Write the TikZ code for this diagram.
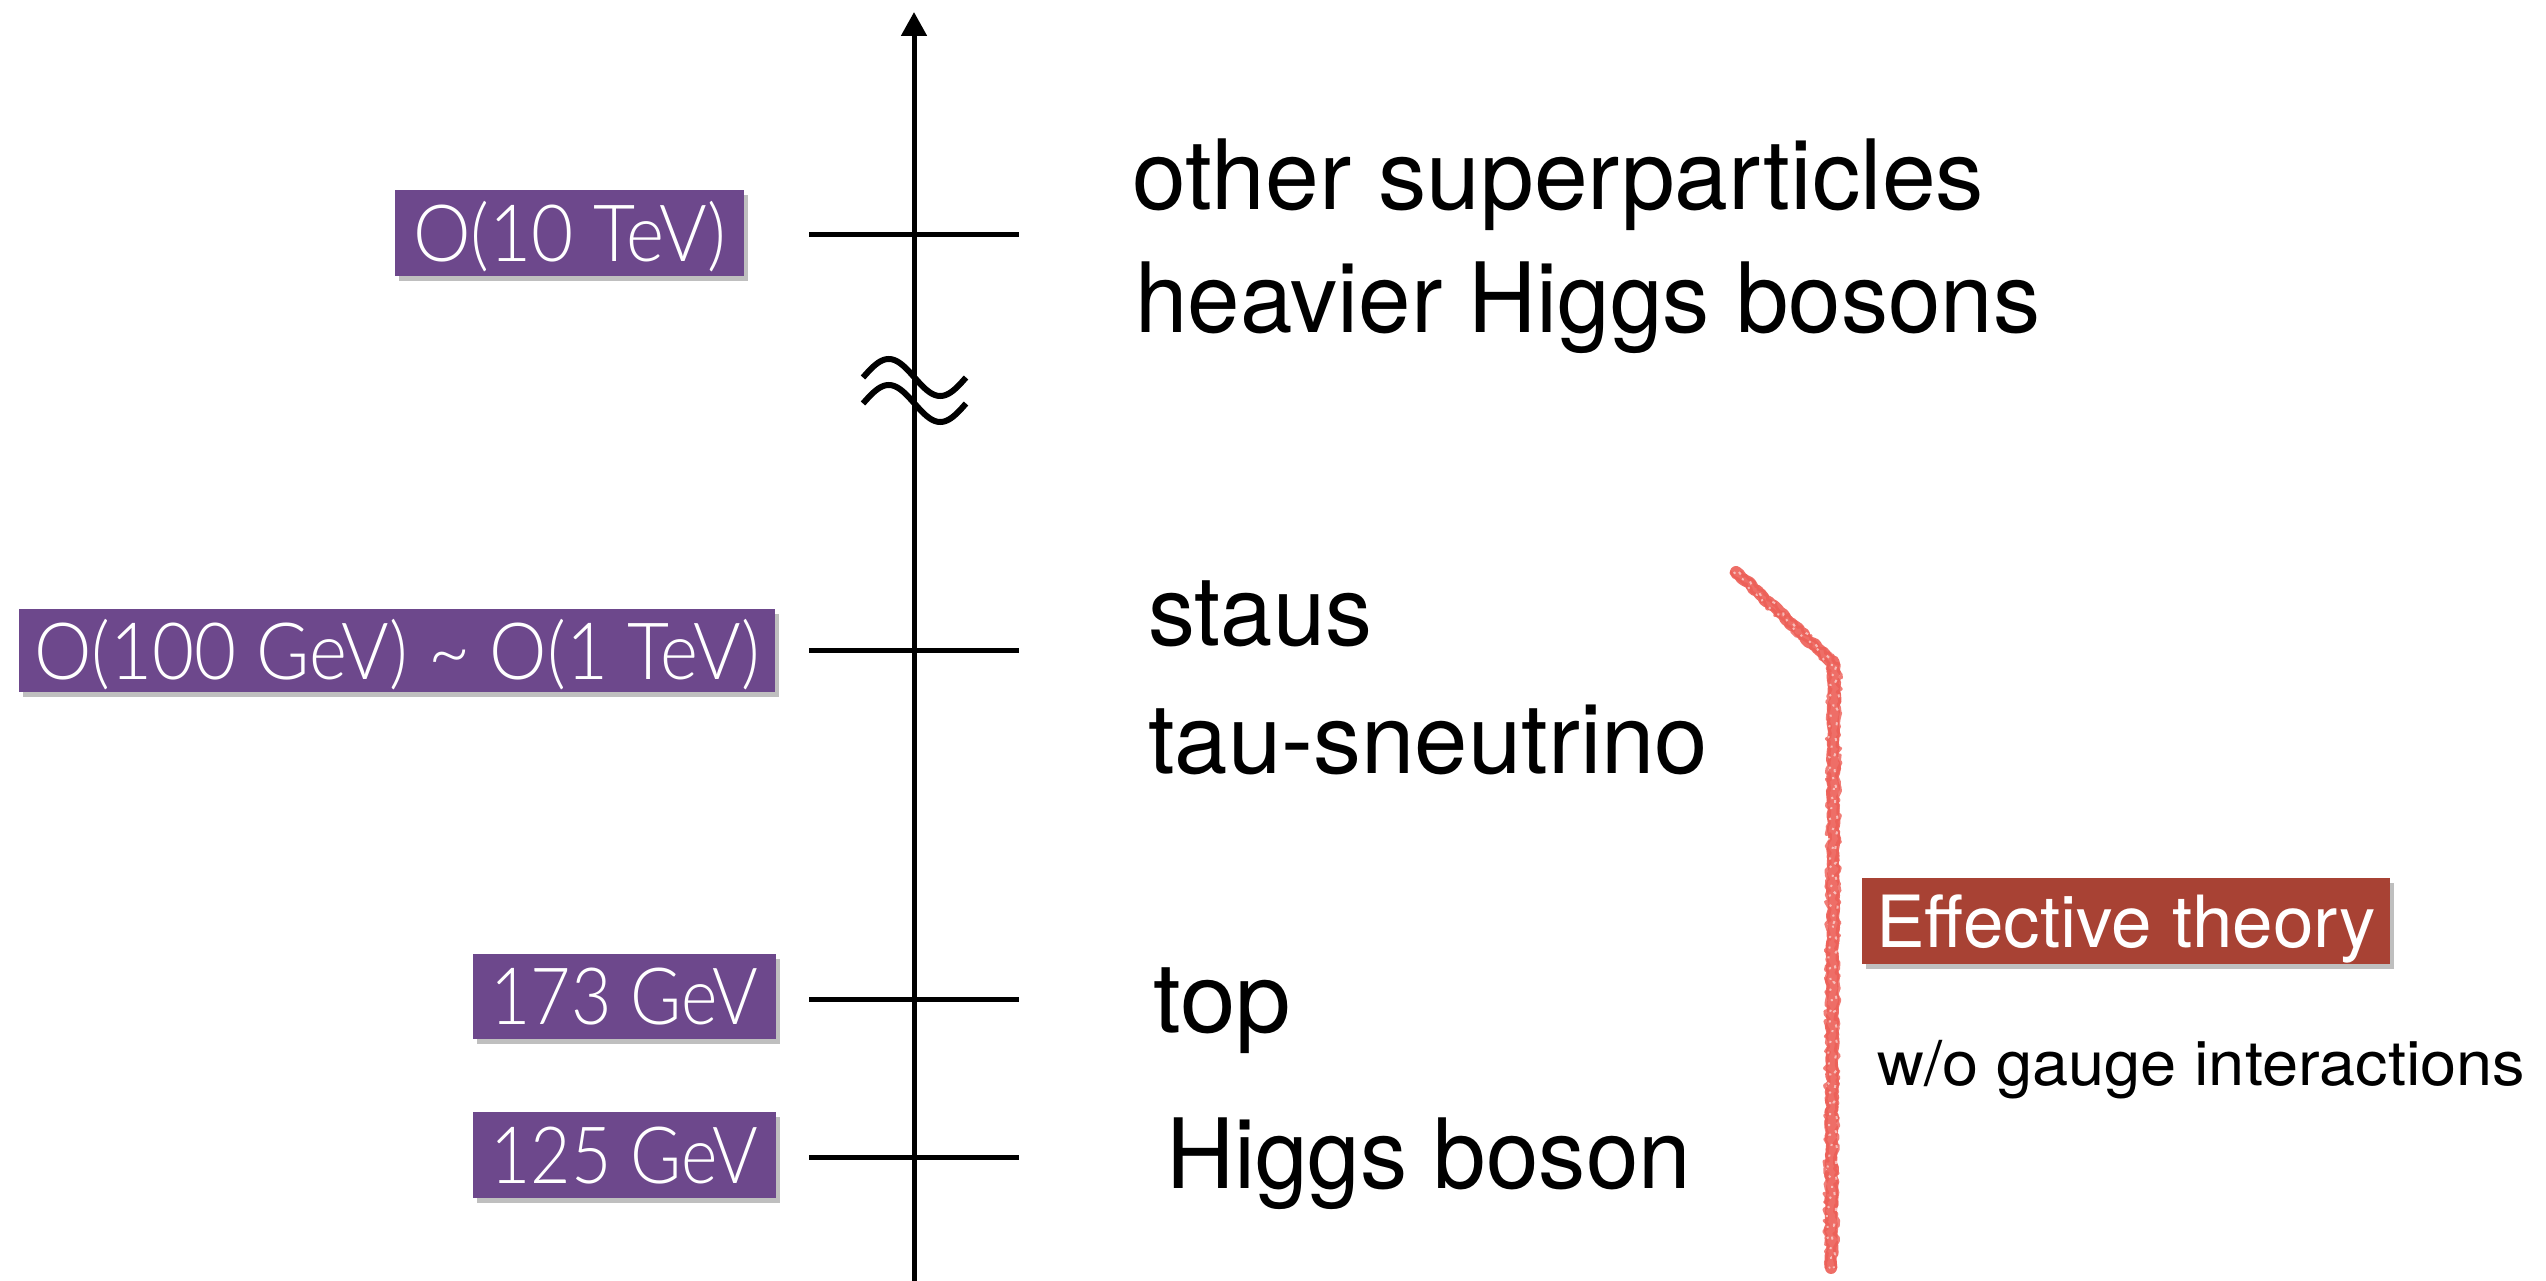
\documentclass[tikz,border=0pt]{standalone}
\usepackage{fontspec}
\setmainfont{TeX Gyre Heros}
\IfFontExistsTF{Lato Light}
  {\newfontfamily\labfont{Lato Light}}
  {\newfontfamily\labfont{Lato}}
\usetikzlibrary{arrows.meta,shadows,decorations.pathmorphing}
\definecolor{labpurple}{RGB}{109,72,140}
\definecolor{effred}{RGB}{168,66,52}
\definecolor{crayonred}{RGB}{236,94,86}
% stretch a text horizontally to a given width, keeping its height
\newcommand\fitwidth[2]{\resizebox{#1}{\height}{#2}}

\begin{document}
\begin{tikzpicture}[x=1pt,y=-1pt,
  energybox/.style={fill=labpurple, text=white, inner sep=0pt,
    drop shadow={shadow xshift=4pt, shadow yshift=-5pt, opacity=.5},
    font=\labfont\fontsize{79}{90}\selectfont, text height=57pt, text depth=0pt},
  effbox/.style={fill=effred, text=white, inner sep=0pt,
    drop shadow={shadow xshift=4pt, shadow yshift=-5pt, opacity=.5},
    font=\fontsize{72}{80}\selectfont, text height=52pt, text depth=0pt},
  partname/.style={anchor=base west, inner sep=0pt, font=\fontsize{97}{110}\selectfont},
  tickline/.style={line width=5pt},
  axisline/.style={line width=5pt, -{Triangle[length=24pt,width=25pt]}},
  approxline/.style={line width=6pt},
  crayon/.style={draw=crayonred, line join=round, line cap=round},
  speckle/.style={draw=white, line width=2pt, opacity=.55},
]
\useasboundingbox (0,0) rectangle (2546,1281);
\pgfmathsetseed{7}

% energy axis
\coordinate (axbot) at (914,1281);
\coordinate (axtop) at (914,12);
\draw[axisline] (axbot) -- (axtop);

% scale ticks
\coordinate (t10l) at (809,235);   \coordinate (t10r) at (1019,235);
\coordinate (t100l) at (809,650);  \coordinate (t100r) at (1019,650);
\coordinate (t173l) at (809,999);  \coordinate (t173r) at (1019,999);
\coordinate (t125l) at (809,1157); \coordinate (t125r) at (1019,1157);
\draw[tickline] (t10l) -- (t10r);
\draw[tickline] (t100l) -- (t100r);
\draw[tickline] (t173l) -- (t173r);
\draw[tickline] (t125l) -- (t125r);

% axis break: two sine waves, one period over 103pt
\draw[approxline] plot[domain=0:360,samples=73] ({863+0.2861*\x},{377.5-18.5*sin(\x)});
\draw[approxline] plot[domain=0:360,samples=73] ({863+0.2861*\x},{403.5-18.5*sin(\x)});

% energy labels
\node[energybox, minimum width=349pt, minimum height=86pt] (lab10) at (569.5,233)
  {\fitwidth{313pt}{O(10 TeV)}};
\node[energybox, minimum width=756pt, minimum height=83pt] (lab100) at (397,650.5)
  {\fitwidth{726pt}{O(100 GeV) \textasciitilde{} O(1 TeV)}};
\node[energybox, minimum width=303pt, minimum height=85pt] (lab173) at (624.5,996)
  {\fitwidth{268pt}{173 GeV}};
\node[energybox, minimum width=303pt, minimum height=86pt] (lab125) at (624.5,1155)
  {\fitwidth{268pt}{125 GeV}};

% particles
\node[partname] (other) at (1132,210) {\fitwidth{852pt}{other superparticles}};
\node[partname] (heavy) at (1135,333) {\fitwidth{905pt}{heavier Higgs bosons}};
\node[partname] (staus) at (1148,645) {\fitwidth{224pt}{staus}};
\node[partname] (sneu) at (1148,773) {\fitwidth{560pt}{tau-sneutrino}};
\node[partname] (ntop) at (1153,1032) {\fitwidth{138pt}{top}};
\node[partname] (higgs) at (1166,1188) {\fitwidth{525pt}{Higgs boson}};

% range of the effective theory, drawn as a crayon stroke
\coordinate (r1) at (1736,572);
\coordinate (r2) at (1834,664);
\coordinate (r3) at (1831,1268);
\draw[crayon, line width=12pt, opacity=.9,
  decorate, decoration={random steps, segment length=4pt, amplitude=1.5pt}]
  (r1) -- (r2) -- (r3);
\draw[crayon, line width=3pt, opacity=.8,
  decorate, decoration={random steps, segment length=3pt, amplitude=2.5pt}]
  ([xshift=-5pt]r1) -- ([xshift=-5pt]r2) -- ([xshift=-5pt]r3);
\draw[crayon, line width=3pt, opacity=.8,
  decorate, decoration={random steps, segment length=3pt, amplitude=2.5pt}]
  ([xshift=5pt]r1) -- ([xshift=5pt]r2) -- ([xshift=5pt]r3);
% paper grain showing through the crayon
\draw[speckle, dash pattern=on 2pt off 9pt,
  decorate, decoration={random steps, segment length=6pt, amplitude=3pt}]
  ([xshift=-2pt]r1) -- ([xshift=-2pt]r2) -- ([xshift=-2pt]r3);
\draw[speckle, dash pattern=on 3pt off 13pt,
  decorate, decoration={random steps, segment length=7pt, amplitude=3pt}]
  ([xshift=3pt]r1) -- ([xshift=3pt]r2) -- ([xshift=3pt]r3);

\node[effbox, minimum width=528pt, minimum height=86pt] (eff) at (2126,921)
  {\fitwidth{500pt}{Effective theory}};
\node[anchor=base west, inner sep=0pt, font=\fontsize{62}{70}\selectfont] (wo) at (1877,1085)
  {\fitwidth{648pt}{w/o gauge interactions}};
\end{tikzpicture}
\end{document}
